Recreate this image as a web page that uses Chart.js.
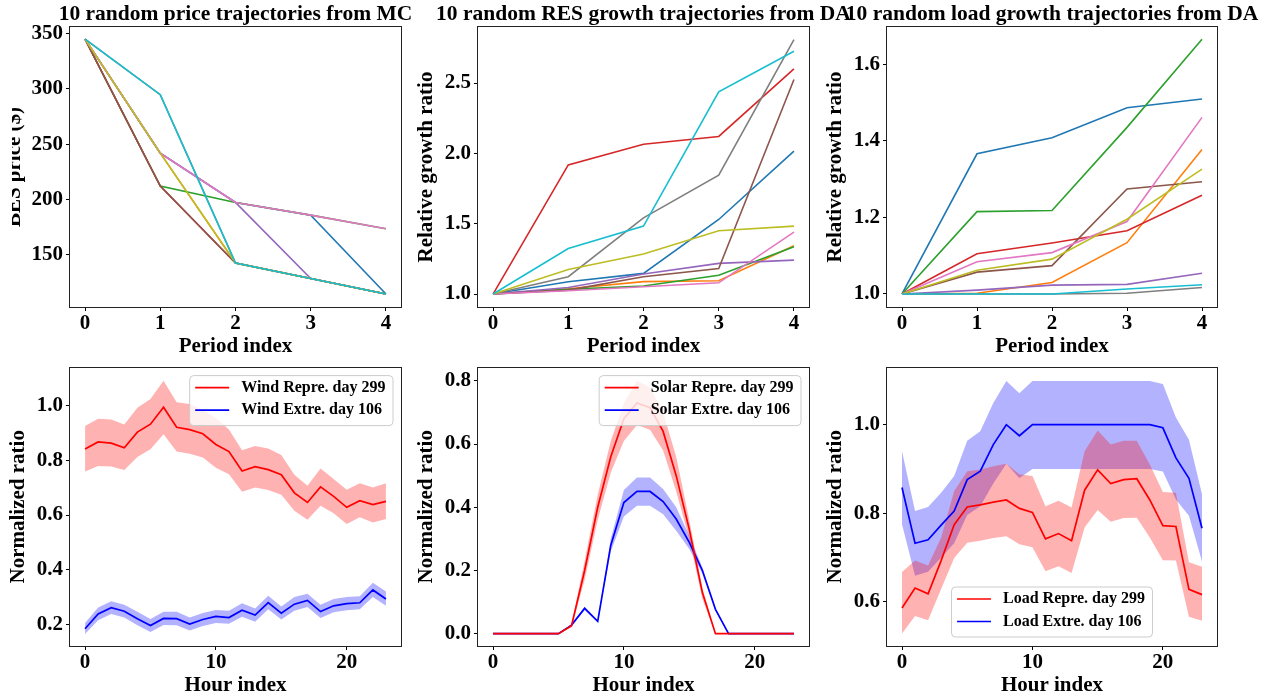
<!DOCTYPE html>
<html>
<head>
<meta charset="utf-8">
<script src="https://cdn.jsdelivr.net/npm/chart.js@4.4.1/dist/chart.umd.min.js"></script>
<style>
  body { margin: 0; background: #fff; width: 1271px; height: 698px; overflow: hidden; position: relative; }
  canvas { position: absolute; }
</style>
</head>
<body>
<canvas id="price"></canvas>
<canvas id="res"></canvas>
<canvas id="load"></canvas>
<canvas id="wind"></canvas>
<canvas id="solar"></canvas>
<canvas id="loadDay"></canvas>
<script>
// ---- data ----
const periods = [0, 1, 2, 3, 4]
const hours = [0, 1, 2, 3, 4, 5, 6, 7, 8, 9, 10, 11, 12, 13, 14, 15, 16, 17, 18, 19, 20, 21, 22, 23]
const periodTicks = [0, 1, 2, 3, 4]
const hourTicks = [0, 10, 20]

const tab10 = ['#1f77b4', '#ff7f0e', '#2ca02c', '#d62728', '#9467bd',
               '#8c564b', '#e377c2', '#7f7f7f', '#bcbd22', '#17becf']

// BES price trajectories (one per tab10 colour)
const priceTrajectories = [
  [345, 242, 197.5, 186, 114.7],
  [345, 242, 142.7, 128.8, 114.7],
  [345, 212.3, 197.5, 186, 173.7],
  [345, 212.3, 142.7, 128.8, 114.7],
  [345, 242, 197.5, 128.8, 114.7],
  [345, 212.3, 142.7, 128.8, 114.7],
  [345, 242, 197.5, 186, 173.7],
  [345, 294.8, 142.7, 128.8, 114.7],
  [345, 242, 142.7, 128.8, 114.7],
  [345, 294.8, 142.7, 128.8, 114.7]
]
const priceTicks = [150, 200, 250, 300, 350]

const resGrowth = [
  [1.0, 1.088, 1.147, 1.530, 2.016],
  [1.0, 1.038, 1.088, 1.095, 1.343],
  [1.0, 1.033, 1.057, 1.133, 1.336],
  [1.0, 1.918, 2.065, 2.120, 2.600],
  [1.0, 1.047, 1.142, 1.218, 1.241],
  [1.0, 1.028, 1.123, 1.182, 2.525],
  [1.0, 1.024, 1.052, 1.080, 1.440],
  [1.0, 1.123, 1.542, 1.845, 2.809],
  [1.0, 1.175, 1.284, 1.450, 1.483],
  [1.0, 1.324, 1.483, 2.437, 2.726]
]
const resTicks = [1.0, 1.5, 2.0, 2.5]

const loadGrowth = [
  [1.0, 1.366, 1.408, 1.486, 1.509],
  [1.0, 1.002, 1.030, 1.134, 1.377],
  [1.0, 1.215, 1.218, 1.435, 1.665],
  [1.0, 1.105, 1.133, 1.165, 1.258],
  [1.0, 1.010, 1.023, 1.025, 1.054],
  [1.0, 1.057, 1.074, 1.274, 1.293],
  [1.0, 1.084, 1.108, 1.189, 1.461],
  [1.0, 1.000, 1.000, 1.002, 1.017],
  [1.0, 1.062, 1.091, 1.195, 1.326],
  [1.0, 1.000, 1.000, 1.013, 1.024]
]
const loadTicks = [1.0, 1.2, 1.4, 1.6]

// wind
const windRepr = [0.841, 0.867, 0.863, 0.846, 0.903, 0.932, 0.994, 0.921, 0.912, 0.897, 0.858, 0.832,
                  0.761, 0.777, 0.766, 0.747, 0.681, 0.646, 0.703, 0.668, 0.628, 0.652, 0.638, 0.650]
const windReprUp = [0.925, 0.952, 0.949, 0.931, 0.992, 1.024, 1.091, 1.012, 1.006, 0.985, 0.955, 0.913,
                    0.837, 0.852, 0.843, 0.819, 0.747, 0.707, 0.770, 0.732, 0.692, 0.716, 0.701, 0.716]
const windReprLo = [0.759, 0.779, 0.777, 0.765, 0.812, 0.840, 0.895, 0.832, 0.824, 0.810, 0.773, 0.749,
                    0.685, 0.701, 0.691, 0.674, 0.616, 0.583, 0.634, 0.606, 0.567, 0.592, 0.573, 0.585]
const windExtr = [0.184, 0.238, 0.261, 0.248, 0.221, 0.196, 0.222, 0.221, 0.201, 0.218, 0.229, 0.225,
                  0.252, 0.234, 0.280, 0.241, 0.274, 0.288, 0.247, 0.268, 0.276, 0.279, 0.326, 0.293]
const windExtrUp = [0.205, 0.262, 0.285, 0.272, 0.246, 0.220, 0.246, 0.246, 0.225, 0.242, 0.253, 0.250,
                    0.277, 0.258, 0.305, 0.265, 0.300, 0.312, 0.272, 0.293, 0.300, 0.303, 0.352, 0.320]
const windExtrLo = [0.165, 0.215, 0.238, 0.225, 0.197, 0.172, 0.198, 0.197, 0.178, 0.194, 0.205, 0.202,
                    0.228, 0.210, 0.255, 0.218, 0.250, 0.264, 0.223, 0.244, 0.252, 0.255, 0.300, 0.268]
const windTicks = [0.2, 0.4, 0.6, 0.8, 1.0]

// solar
const solarRepr = [0, 0, 0, 0, 0, 0, 0.025, 0.20, 0.40, 0.56, 0.68, 0.73,
                   0.715, 0.64, 0.50, 0.33, 0.13, 0, 0, 0, 0, 0, 0, 0]
const solarReprUp = [0, 0, 0, 0, 0, 0, 0.03, 0.23, 0.44, 0.61, 0.73, 0.80,
                     0.78, 0.70, 0.56, 0.36, 0.145, 0, 0, 0, 0, 0, 0, 0]
const solarReprLo = [0, 0, 0, 0, 0, 0, 0.02, 0.17, 0.36, 0.51, 0.61, 0.66,
                     0.645, 0.58, 0.45, 0.30, 0.11, 0, 0, 0, 0, 0, 0, 0]
const solarExtr = [0, 0, 0, 0, 0, 0, 0.027, 0.08, 0.039, 0.28, 0.415, 0.45,
                   0.45, 0.418, 0.363, 0.289, 0.20, 0.077, 0, 0, 0, 0, 0, 0]
const solarExtrUp = [0, 0, 0, 0, 0, 0, 0.03, 0.085, 0.042, 0.30, 0.455, 0.494,
                     0.494, 0.458, 0.40, 0.31, 0.21, 0.08, 0, 0, 0, 0, 0, 0]
const solarExtrLo = [0, 0, 0, 0, 0, 0, 0.024, 0.075, 0.036, 0.26, 0.371, 0.405,
                     0.405, 0.378, 0.326, 0.268, 0.19, 0.074, 0, 0, 0, 0, 0, 0]
const solarTicks = [0.0, 0.2, 0.4, 0.6, 0.8]

// load
const loadRepr = [0.586, 0.631, 0.618, 0.693, 0.774, 0.814, 0.819, 0.825, 0.830, 0.811, 0.802, 0.742,
                  0.754, 0.738, 0.852, 0.898, 0.867, 0.876, 0.878, 0.830, 0.772, 0.770, 0.628, 0.616]
const loadReprUp = [0.667, 0.693, 0.682, 0.745, 0.850, 0.895, 0.899, 0.906, 0.912, 0.888, 0.884, 0.816,
                    0.828, 0.813, 0.940, 0.987, 0.955, 0.964, 0.964, 0.910, 0.848, 0.846, 0.689, 0.679]
const loadReprLo = [0.528, 0.568, 0.558, 0.629, 0.699, 0.733, 0.738, 0.744, 0.748, 0.730, 0.723, 0.669,
                    0.680, 0.665, 0.768, 0.807, 0.781, 0.789, 0.790, 0.745, 0.694, 0.693, 0.566, 0.557]
const loadExtr = [0.858, 0.732, 0.740, 0.773, 0.805, 0.876, 0.895, 0.955, 1.0, 0.975, 1.0, 1.0,
                  1.0, 1.0, 1.0, 1.0, 1.0, 1.0, 1.0, 1.0, 0.993, 0.925, 0.879, 0.766]
const loadExtrUp = [0.940, 0.805, 0.814, 0.846, 0.884, 0.964, 0.985, 1.049, 1.099, 1.071, 1.099, 1.099,
                    1.099, 1.099, 1.099, 1.099, 1.099, 1.099, 1.099, 1.099, 1.092, 1.016, 0.966, 0.843]
const loadExtrLo = [0.775, 0.659, 0.668, 0.700, 0.732, 0.796, 0.816, 0.867, 0.912, 0.879, 0.900, 0.900,
                    0.900, 0.900, 0.900, 0.900, 0.900, 0.900, 0.900, 0.900, 0.894, 0.831, 0.794, 0.691]
const loadDayTicks = [0.6, 0.8, 1.0]

// ---- drawing ----
const SERIF = '"Liberation Serif", "Times New Roman", serif'
Chart.defaults.font.family = SERIF
Chart.defaults.color = '#000'

const toXY = (xs, ys) => ys.map((y, i) => ({x: xs[i], y}))

function trajectorySets(rows) {
  return rows.map((row, i) => ({
    data: toXY(periods, row),
    borderColor: tab10[i],
    borderWidth: 1.6,
    pointRadius: 0,
    fill: false,
    order: -i
  }))
}

function line(ys, color) {
  return {data: toXY(hours, ys), borderColor: color, borderWidth: 1.7, pointRadius: 0, fill: false, order: 0}
}

function band(up, lo, color) {
  return [
    {data: toXY(hours, up), borderWidth: 0, pointRadius: 0, fill: '+1', backgroundColor: color, order: 1},
    {data: toXY(hours, lo), borderWidth: 0, pointRadius: 0, fill: false, order: 1}
  ]
}

function drawLegend(ctx, a, legend) {
  ctx.save()
  ctx.font = 'bold 16px ' + SERIF
  const textW = Math.max(...legend.items.map(it => ctx.measureText(it.label).width))
  const w = 5.5 + 34 + 12 + textW + 7.5
  const h = 50
  let x, y
  if (legend.loc === 'lower center') {
    x = (a.left + a.right) / 2 - w / 2
    y = a.bottom - 9 - h
  } else {
    x = a.right - 8 - w
    y = a.top + 8
  }
  ctx.beginPath()
  ctx.roundRect(x, y, w, h, 4)
  ctx.fillStyle = 'rgba(255,255,255,0.8)'
  ctx.fill()
  ctx.strokeStyle = '#cccccc'
  ctx.lineWidth = 1
  ctx.stroke()
  legend.items.forEach((it, i) => {
    const ry = y + 12 + i * 22.5
    ctx.beginPath()
    ctx.moveTo(x + 5.5, ry)
    ctx.lineTo(x + 39.5, ry)
    ctx.strokeStyle = it.color
    ctx.lineWidth = 1.7
    ctx.stroke()
    ctx.fillStyle = '#000'
    ctx.textBaseline = 'middle'
    ctx.textAlign = 'left'
    ctx.fillText(it.label, x + 51.5, ry)
  })
  ctx.restore()
}

const framePlugin = {
  id: 'frame',
  afterDatasetsDraw(chart, args, opts) {
    const {ctx, chartArea: a} = chart
    ctx.save()
    ctx.strokeStyle = '#222'
    ctx.lineWidth = 1
    ctx.strokeRect(Math.round(a.left) - 0.5, Math.round(a.top) - 0.5,
                   Math.round(a.right - a.left) + 1, Math.round(a.bottom - a.top) + 1)
    ctx.restore()
    if (opts.legend) drawLegend(ctx, a, opts.legend)
  },
  afterDraw(chart, args, opts) {
    if (!opts.title) return
    const {ctx, chartArea: a} = chart
    ctx.save()
    ctx.font = 'bold 21.5px ' + SERIF
    ctx.fillStyle = '#000'
    ctx.textAlign = 'center'
    ctx.textBaseline = 'middle'
    ctx.fillText(opts.title, (a.left + a.right) / 2, a.top - 13)
    ctx.restore()
  }
}

function makeChart(id, box, datasets, o) {
  const W = o.W || 70, T = o.T, R = 50, H = 52
  const cv = document.getElementById(id)
  cv.width = W + box[2] + R
  cv.height = T + box[3] + H
  cv.style.left = (box[0] - W) + 'px'
  cv.style.top = (box[1] - T) + 'px'
  const tickFont = {size: 21, weight: 'bold', family: SERIF}
  const grid = {display: true, drawOnChartArea: false, drawTicks: true, tickLength: 4, color: '#000', lineWidth: 1}
  return new Chart(cv, {
    type: 'line',
    data: {datasets},
    options: {
      responsive: false,
      animation: false,
      events: [],
      layout: {padding: {left: 0, top: T, right: R, bottom: 0}},
      plugins: {
        legend: {display: false},
        tooltip: {enabled: false},
        frame: {title: o.title, legend: o.legend}
      },
      scales: {
        x: {
          type: 'linear', min: o.xMin, max: o.xMax,
          afterFit: s => { s.height = H },
          afterBuildTicks: s => { s.ticks = o.xTicks.map(v => ({value: v})) },
          grid, border: {display: false},
          ticks: {font: tickFont, padding: 0, maxRotation: 0, autoSkip: false, color: '#000'},
          title: {display: true, text: o.xTitle, font: tickFont, color: '#000', padding: {top: 0, bottom: 0}}
        },
        y: {
          type: 'linear', min: o.yMin, max: o.yMax,
          afterFit: s => { s.width = W },
          afterBuildTicks: s => { s.ticks = o.yTicks.map(v => ({value: v})) },
          grid, border: {display: false},
          ticks: {font: tickFont, padding: 3, autoSkip: false, color: '#000',
                  callback: v => v.toFixed(o.yDec)},
          title: {display: true, text: o.yTitle, font: tickFont, color: '#000',
                  padding: {top: o.yTitlePad, bottom: 0}}
        }
      }
    },
    plugins: [framePlugin]
  })
}

const period = {xMin: -0.2, xMax: 4.2, xTicks: periodTicks, xTitle: 'Period index', T: 27}
const hour = {xMin: -1.15, xMax: 24.15, xTicks: hourTicks, xTitle: 'Hour index', T: 14}

makeChart('price', [70, 27, 331, 280], trajectorySets(priceTrajectories), Object.assign({}, period, {
  title: '10 random price trajectories from MC', W: 58, yTitlePad: -9.6,
  yMin: 103, yMax: 356, yTicks: priceTicks, yDec: 0, yTitle: 'BES price ($)'
}))

makeChart('res', [478, 27, 331, 280], trajectorySets(resGrowth), Object.assign({}, period, {
  title: '10 random RES growth trajectories from DA', yTitlePad: 6.4,
  yMin: 0.908, yMax: 2.898, yTicks: resTicks, yDec: 1, yTitle: 'Relative growth ratio'
}))

makeChart('load', [887, 27, 330, 280], trajectorySets(loadGrowth), Object.assign({}, period, {
  title: '10 random load growth trajectories from DA', yTitlePad: 6.4,
  yMin: 0.966, yMax: 1.697, yTicks: loadTicks, yDec: 1, yTitle: 'Relative growth ratio'
}))

makeChart('wind', [70, 366, 331, 280], [
  line(windRepr, '#ff0000'), line(windExtr, '#0000ff'),
  ...band(windReprUp, windReprLo, 'rgba(255,0,0,0.3)'),
  ...band(windExtrUp, windExtrLo, 'rgba(0,0,255,0.3)')
], Object.assign({}, hour, {
  yTitlePad: 6.4, yMin: 0.121, yMax: 1.139, yTicks: windTicks, yDec: 1, yTitle: 'Normalized ratio',
  legend: {loc: 'upper right', items: [
    {label: 'Wind Repre. day 299', color: '#ff0000'},
    {label: 'Wind Extre. day 106', color: '#0000ff'}
  ]}
}))

makeChart('solar', [478, 366, 331, 280], [
  line(solarRepr, '#ff0000'), line(solarExtr, '#0000ff'),
  ...band(solarReprUp, solarReprLo, 'rgba(255,0,0,0.3)'),
  ...band(solarExtrUp, solarExtrLo, 'rgba(0,0,255,0.3)')
], Object.assign({}, hour, {
  yTitlePad: 6.4, yMin: -0.039, yMax: 0.842, yTicks: solarTicks, yDec: 1, yTitle: 'Normalized ratio',
  legend: {loc: 'upper right', items: [
    {label: 'Solar Repre. day 299', color: '#ff0000'},
    {label: 'Solar Extre. day 106', color: '#0000ff'}
  ]}
}))

makeChart('loadDay', [887, 366, 330, 280], [
  line(loadRepr, '#ff0000'), line(loadExtr, '#0000ff'),
  ...band(loadReprUp, loadReprLo, 'rgba(255,0,0,0.3)'),
  ...band(loadExtrUp, loadExtrLo, 'rgba(0,0,255,0.3)')
], Object.assign({}, hour, {
  yTitlePad: 6.4, yMin: 0.5, yMax: 1.129, yTicks: loadDayTicks, yDec: 1, yTitle: 'Normalized ratio',
  legend: {loc: 'lower center', items: [
    {label: 'Load Repre. day 299', color: '#ff0000'},
    {label: 'Load Extre. day 106', color: '#0000ff'}
  ]}
}))
</script>
</body>
</html>
